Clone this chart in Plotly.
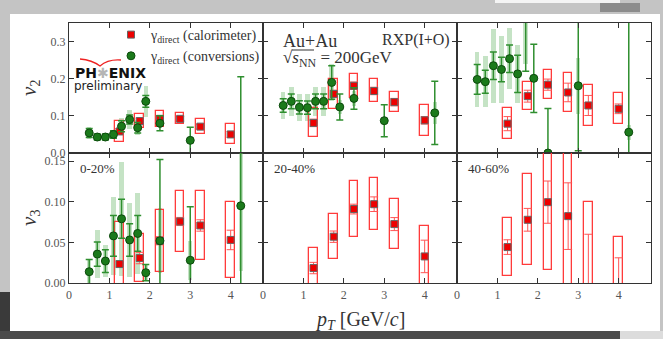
import plotly.graph_objects as go
from plotly.subplots import make_subplots

# ---------------- data ----------------
pt_conv = [0.5, 0.7, 0.9, 1.1, 1.3, 1.5, 1.7, 1.9, 2.25, 3.0, 4.25]
pt_calo = [1.25, 1.75, 2.25, 2.75, 3.25, 4.0]
centralities = ["0-20%", "20-40%", "40-60%"]

v2_conv_0020 = [0.054, 0.043, 0.043, 0.050, 0.072, 0.090, 0.068, 0.139, 0.080, 0.034, -0.020]
v2_conv_0020_stat = [0.012, 0.008, 0.008, 0.010, 0.015, 0.012, 0.014, 0.016, 0.020, 0.035, 0.225]
v2_conv_0020_sys = [0.015, 0.012, 0.012, 0.013, 0.022, 0.025, 0.020, 0.042, 0.012, 0.010, 0.0]
v2_conv_2040 = [0.128, 0.139, 0.123, 0.122, 0.139, 0.139, 0.190, 0.124, 0.147, 0.087, 0.108]
v2_conv_2040_stat = [0.018, 0.020, 0.018, 0.018, 0.020, 0.020, 0.045, 0.035, 0.029, 0.043, 0.085]
v2_conv_2040_sys = [0.037, 0.040, 0.037, 0.037, 0.040, 0.040, 0.050, 0.020, 0.020, 0.010, 0.030]
v2_conv_4060 = [0.198, 0.192, 0.235, 0.225, 0.254, 0.213, 0.370, 0.201, 0.000, 0.181, 0.056]
v2_conv_4060_stat = [0.040, 0.031, 0.037, 0.033, 0.037, 0.050, 0.150, 0.092, 0.120, 0.175, 0.300]
v2_conv_4060_sys = [0.073, 0.068, 0.100, 0.090, 0.082, 0.078, 0.130, 0.0, 0.0, 0.076, 0.020]

v2_calo_0020 = [0.058, 0.086, 0.092, 0.092, 0.071, 0.050]
v2_calo_0020_stat = [0.008, 0.008, 0.008, 0.006, 0.006, 0.008]
v2_calo_0020_sys = [0.029, 0.020, 0.022, 0.015, 0.020, 0.027]
v2_calo_2040 = [0.081, 0.159, 0.181, 0.167, 0.137, 0.088]
v2_calo_2040_stat = [0.010, 0.010, 0.010, 0.010, 0.010, 0.010]
v2_calo_2040_sys = [0.039, 0.040, 0.033, 0.031, 0.026, 0.041]
v2_calo_4060 = [0.079, 0.153, 0.184, 0.163, 0.128, 0.119]
v2_calo_4060_stat = [0.019, 0.016, 0.015, 0.025, 0.027, 0.013]
v2_calo_4060_sys = [0.041, 0.037, 0.039, 0.052, 0.056, 0.042]

v3_conv_0020 = [0.0139, 0.0356, 0.027, 0.058, 0.079, 0.053, 0.061, 0.0127, 0.052, 0.028, 0.095]
v3_conv_0020_stat = [0.015, 0.015, 0.014, 0.025, 0.024, 0.020, 0.022, 0.010, 0.100, 0.066, 0.100]
v3_conv_0020_sys = [0.015, 0.030, 0.020, 0.048, 0.070, 0.045, 0.050, 0.010, 0.040, 0.024, 0.080]

v3_calo_0020 = [0.0233, 0.0307, 0.052, 0.0757, 0.0708, 0.053]
v3_calo_0020_stat = [0.004, 0.007, 0.005, 0.005, 0.007, 0.012]
v3_calo_0020_sys = [0.052, 0.030, 0.038, 0.037, 0.042, 0.047]
v3_calo_2040 = [0.0184, 0.057, 0.091, 0.097, 0.0725, 0.0327]
v3_calo_2040_stat = [0.007, 0.007, 0.006, 0.009, 0.008, 0.020]
v3_calo_2040_sys = [0.025, 0.028, 0.034, 0.032, 0.031, 0.038]
v3_calo_4060 = [0.0442, 0.0778, 0.0995, 0.0823, -0.010, -0.010]
v3_calo_4060_stat = [0.009, 0.014, 0.026, 0.041, 0.070, 0.041]
v3_calo_4060_sys = [0.036, 0.056, 0.084, 0.110, 0.110, 0.067]

x_ticks = [0, 1, 2, 3, 4]
v2_ticks = [0.0, 0.1, 0.2, 0.3]
v3_ticks = [0.00, 0.05, 0.10, 0.15]

panels = [
    (1, 1, (v2_conv_0020, v2_conv_0020_stat, v2_conv_0020_sys), (v2_calo_0020, v2_calo_0020_stat, v2_calo_0020_sys)),
    (1, 2, (v2_conv_2040, v2_conv_2040_stat, v2_conv_2040_sys), (v2_calo_2040, v2_calo_2040_stat, v2_calo_2040_sys)),
    (1, 3, (v2_conv_4060, v2_conv_4060_stat, v2_conv_4060_sys), (v2_calo_4060, v2_calo_4060_stat, v2_calo_4060_sys)),
    (2, 1, (v3_conv_0020, v3_conv_0020_stat, v3_conv_0020_sys), (v3_calo_0020, v3_calo_0020_stat, v3_calo_0020_sys)),
    (2, 2, None, (v3_calo_2040, v3_calo_2040_stat, v3_calo_2040_sys)),
    (2, 3, None, (v3_calo_4060, v3_calo_4060_stat, v3_calo_4060_sys)),
]

W, H = 663, 339
ML, MR, MT, MB = 69, 12, 23, 56
PW, PH = W - ML - MR, H - MT - MB

def px(x):
    return (x - ML) / PW

def py(y):
    return (H - MB - y) / PH

fig = make_subplots(rows=2, cols=3, horizontal_spacing=0, vertical_spacing=0)

GREEN_M = "#1b7a1b"
GREEN_E = "#2f8f2f"
GREEN_SYS = "rgba(90,175,90,0.35)"

for (r, c, conv, calo) in panels:
    first = (r == 1 and c == 1)
    if conv is not None:
        v, st, sy = conv
        fig.add_trace(go.Bar(x=pt_conv, y=[2 * s for s in sy], base=[a - s for a, s in zip(v, sy)],
                             width=0.11, marker=dict(color=GREEN_SYS, line=dict(width=0)),
                             showlegend=False, hoverinfo="skip"), row=r, col=c)
    v, st, sy = calo
    fig.add_trace(go.Bar(x=pt_calo, y=[2 * s for s in sy], base=[a - s for a, s in zip(v, sy)],
                         width=0.21, marker=dict(color="rgba(0,0,0,0)", line=dict(color="#ff3b3b", width=1.3)),
                         showlegend=False, hoverinfo="skip"), row=r, col=c)
    fig.add_trace(go.Scatter(x=pt_calo, y=v, mode="markers",
                             name="γ<sub>direct</sub> (calorimeter)",
                             marker=dict(symbol="square", size=7, color="#ee0000", line=dict(color="#666", width=1)),
                             error_y=dict(type="data", array=st, color="#ff5555", thickness=1, width=4),
                             showlegend=first, legendrank=1), row=r, col=c)
    if conv is not None:
        v, st, sy = conv
        fig.add_trace(go.Scatter(x=pt_conv, y=v, mode="markers",
                                 name="γ<sub>direct</sub> (conversions)",
                                 marker=dict(symbol="circle", size=8, color=GREEN_M, line=dict(color="#0c4a0c", width=1)),
                                 error_y=dict(type="data", array=st, color=GREEN_E, thickness=1.5, width=3.5),
                                 showlegend=first, legendrank=2), row=r, col=c)

tickfont = dict(family="Liberation Serif", size=12, color="#555")
for r in (1, 2):
    for c in (1, 2, 3):
        fig.update_xaxes(range=[0, 4.8], tickvals=x_ticks, ticks="inside", ticklen=5, tickcolor="#333",
                         showline=True, linecolor="#333", linewidth=1.4, mirror="ticks",
                         showgrid=False, zeroline=False, showticklabels=(r == 2), tickfont=tickfont,
                         row=r, col=c)
        if r == 1:
            fig.update_yaxes(range=[0, 0.35], tickvals=v2_ticks, tickformat=".1f", row=r, col=c)
        else:
            fig.update_yaxes(range=[0, 0.16], tickvals=v3_ticks, tickformat=".2f", row=r, col=c)
        fig.update_yaxes(ticks="inside", ticklen=5, tickcolor="#333", showline=True, linecolor="#333",
                         linewidth=1.4, mirror="ticks", showgrid=False, zeroline=False,
                         showticklabels=(c == 1), tickfont=tickfont, row=r, col=c)

serif = "Liberation Serif"
ann = []
def add_text(x, y, text, size, xanchor="left", color="#333", family=serif, angle=0):
    ann.append(dict(xref="paper", yref="paper", x=px(x), y=py(y), text=text, showarrow=False,
                    xanchor=xanchor, yanchor="middle", textangle=angle,
                    font=dict(family=family, size=size, color=color)))

add_text(281, 41, "Au+Au", 18)
add_text(452, 40, "RXP(I+O)", 16, xanchor="right")
add_text(281, 59, "√<i>s</i><sub>NN</sub> = 200GeV", 17)
add_text(78, 168, centralities[0], 13)
add_text(272, 168, centralities[1], 13)
add_text(466, 168, centralities[2], 13)
add_text(73, 73, "<b>PH<span style='color:#b5b5b5'>✱</span>ENIX</b>", 14, family="DejaVu Sans", color="#111")
add_text(72, 86, "preliminary", 12, family="DejaVu Sans", color="#222")
add_text(30, 88, "<i>v</i><sub>2</sub>", 21, xanchor="center", angle=-90)
add_text(30, 218, "<i>v</i><sub>3</sub>", 21, xanchor="center", angle=-90)
add_text(360, 320, "<i>p<sub>T</sub></i> [GeV/<i>c</i>]", 20, xanchor="center")

def rect(x0, y0, x1, y1, color):
    return dict(type="rect", xref="paper", yref="paper", x0=px(x0), x1=px(x1), y0=py(y1), y1=py(y0),
                fillcolor=color, line=dict(width=0), layer="below")

shapes = [
    rect(10, 14, 660, 331, "#ffffff"),
    rect(495, 0, 620, 3, "#f4f4f4"),
    rect(600, 3, 640, 12, "#8c8c8c"),
    rect(0, 292, 10, 339, "#3a3a3a"),
    rect(0, 331, 620, 339, "#4b4b4b"),
    rect(620, 331, 663, 339, "#dcdcdc"),
    # overline of the square root
    dict(type="line", xref="paper", yref="paper", x0=px(292), x1=px(314), y0=py(50), y1=py(50),
         line=dict(color="#333", width=1)),
    # logo arc
    dict(type="path", xref="paper", yref="paper",
         path="M %f,%f Q %f,%f %f,%f Q %f,%f %f,%f" % (px(80), py(59), px(92), py(60), px(100), py(66),
                                                      px(108), py(59), px(121), py(60)),
         line=dict(color="#ee2222", width=1.3)),
]

fig.update_layout(
    width=W, height=H, margin=dict(l=ML, r=MR, t=MT, b=MB),
    paper_bgcolor="#c4c4c4", plot_bgcolor="rgba(0,0,0,0)",
    barmode="overlay", bargap=0,
    showlegend=True,
    legend=dict(x=px(111), y=py(19), xanchor="left", yanchor="top", bgcolor="rgba(0,0,0,0)",
                font=dict(family=serif, size=14, color="#333"), tracegroupgap=0, itemwidth=30),
    annotations=ann, shapes=shapes,
)

fig.write_html("out.html")
